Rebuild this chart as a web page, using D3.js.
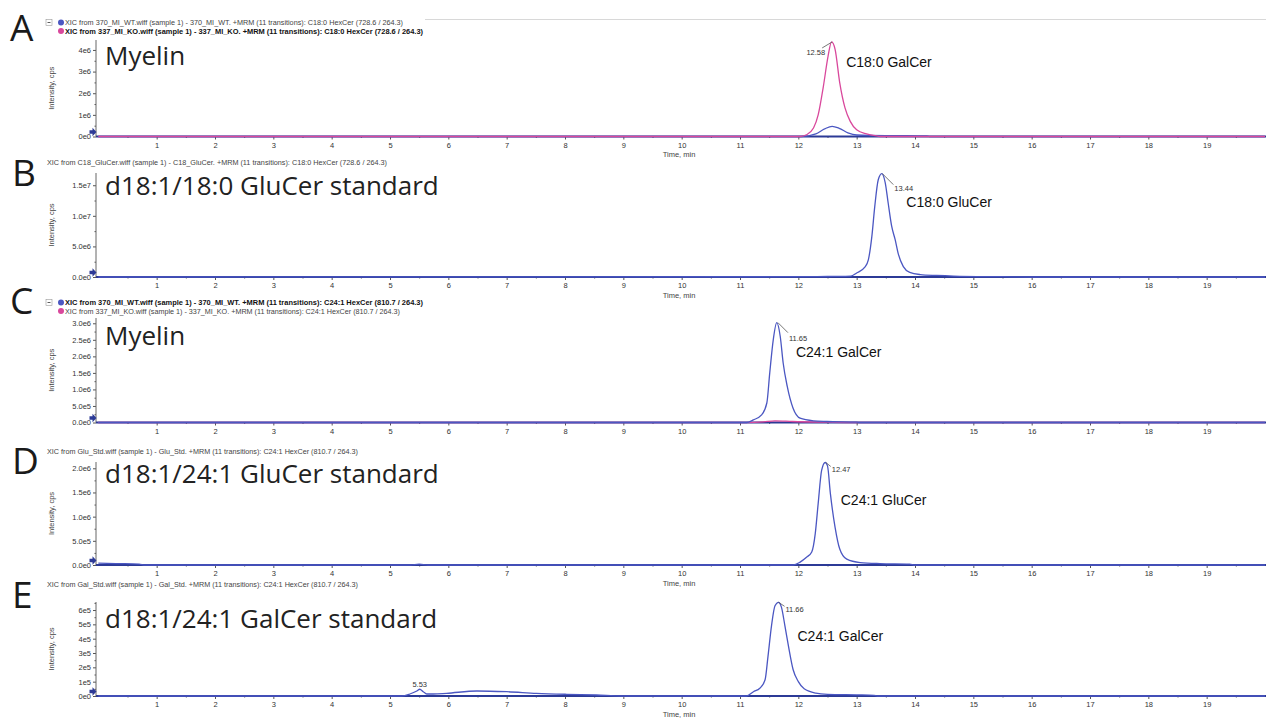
<!DOCTYPE html>
<html>
<head>
<meta charset="utf-8">
<script src="https://cdn.jsdelivr.net/npm/d3@7"></script>
<style>
body{margin:0;background:#fff;}
svg{display:block;font-family:"Liberation Sans",Arial,sans-serif;}
.axis text{font-size:7.5px;fill:#333;font-family:"Liberation Sans",Arial,sans-serif;}
.axis line{stroke:#555;}
</style>
</head>
<body>
<svg id="chart" width="1266" height="720"></svg>
<script>
// ---------- data ----------
const timeTicks = d3.range(1, 20);
const timeMinor = d3.range(0.5, 20, 1);

// A: myelin C18:0 HexCer, WT (blue) and KO (pink)
const aWtTime  = [0, 12.05, 12.3, 12.45, 12.58, 12.7, 12.85, 13.0, 13.5, 14.2, 14.25, 20];
const aWtValue = [0, 0, 0.12e6, 0.35e6, 0.47e6, 0.38e6, 0.17e6, 0.07e6, 0.04e6, 0.03e6, 0, 0];
const aKoTime  = [0, 12.03, 12.14, 12.26, 12.34, 12.43, 12.51, 12.57, 12.63, 12.71, 12.8, 12.89, 13.0, 13.17, 13.34, 13.4, 20];
const aKoValue = [0, 0, 0.08e6, 0.39e6, 1.0e6, 2.33e6, 3.72e6, 4.37e6, 4.03e6, 2.48e6, 1.32e6, 0.7e6, 0.31e6, 0.12e6, 0.03e6, 0, 0];
const aTickValues = [0, 1e6, 2e6, 3e6, 4e6];
const aTickLabels = ['0e0', '1e6', '2e6', '3e6', '4e6'];

// B: C18:0 GluCer standard
const bTime  = [0, 12.2, 12.6, 12.9, 13.0, 13.14, 13.2, 13.26, 13.31, 13.37, 13.43, 13.49, 13.54, 13.6, 13.66, 13.71, 13.8, 13.91, 14.09, 14.37, 14.66, 15.5, 16, 20];
const bValue = [0, 0.05e6, 0.1e6, 0.15e6, 0.65e6, 1.6e6, 2.8e6, 6.6e6, 11.5e6, 15.9e6, 16.9e6, 15.4e6, 12.1e6, 8.3e6, 6.1e6, 3.9e6, 1.7e6, 0.75e6, 0.4e6, 0.25e6, 0.15e6, 0.05e6, 0, 0];
const bTickValues = [0, 5e6, 1e7, 1.5e7];
const bTickLabels = ['0.0e0', '5.0e6', '1.0e7', '1.5e7'];

// C: myelin C24:1 HexCer, WT (blue) and KO (pink)
const cWtTime  = [0, 11.11, 11.23, 11.37, 11.46, 11.51, 11.57, 11.63, 11.69, 11.74, 11.81, 11.91, 12.03, 12.26, 12.49, 13.0, 13.05, 20];
const cWtValue = [0, 0, 0.08e6, 0.23e6, 0.59e6, 1.5e6, 2.5e6, 3.02e6, 2.6e6, 1.8e6, 1.09e6, 0.43e6, 0.13e6, 0.05e6, 0.03e6, 0.01e6, 0, 0];
const cKoTime  = [0, 11.1, 11.4, 11.6, 11.9, 12.5, 13.0, 20];
const cKoValue = [0, 0, 0.02e6, 0.05e6, 0.03e6, 0.01e6, 0, 0];
const cTickValues = [0, 5e5, 1e6, 1.5e6, 2e6, 2.5e6, 3e6];
const cTickLabels = ['0.0e0', '5.0e5', '1.0e6', '1.5e6', '2.0e6', '2.5e6', '3.0e6'];

// D: C24:1 GluCer standard
const dTime  = [0, 0.3, 0.7, 0.8, 5.35, 5.5, 5.65, 11.91, 12.03, 12.14, 12.23, 12.29, 12.34, 12.4, 12.46, 12.5, 12.55, 12.63, 12.71, 12.83, 13.06, 13.4, 13.91, 14.0, 20];
const dValue = [0.04e6, 0.03e6, 0.02e6, 0, 0, 0.02e6, 0, 0, 0.06e6, 0.16e6, 0.27e6, 0.65e6, 1.27e6, 1.96e6, 2.12e6, 2.05e6, 1.47e6, 0.78e6, 0.33e6, 0.12e6, 0.05e6, 0.03e6, 0.02e6, 0, 0];
const dTickValues = [0, 5e5, 1e6, 1.5e6, 2e6];
const dTickLabels = ['0.0e0', '5.0e5', '1.0e6', '1.5e6', '2.0e6'];

// E: C24:1 GalCer standard
const eTime  = [0, 5.2, 5.34, 5.46, 5.51, 5.57, 5.63, 5.74, 5.97, 6.49, 7.0, 7.51, 8.03, 8.54, 8.97, 11.11, 11.23, 11.34, 11.43, 11.48, 11.54, 11.6, 11.66, 11.71, 11.77, 11.83, 11.91, 12.0, 12.1, 12.3, 12.5, 13.0, 13.3, 13.35, 20];
const eValue = [0, 0, 0.14e5, 0.35e5, 0.47e5, 0.3e5, 0.14e5, 0.14e5, 0.19e5, 0.35e5, 0.3e5, 0.19e5, 0.12e5, 0.07e5, 0, 0, 0.3e5, 0.54e5, 1.13e5, 2.77e5, 4.9e5, 6.3e5, 6.54e5, 6.2e5, 4.9e5, 3.5e5, 1.85e5, 1.0e5, 0.5e5, 0.2e5, 0.12e5, 0.08e5, 0.05e5, 0, 0];
const eTickValues = [0, 1e5, 2e5, 3e5, 4e5, 5e5, 6e5];
const eTickLabels = ['0e0', '1e5', '2e5', '3e5', '4e5', '5e5', '6e5'];

const panelLetters = ['A', 'B', 'C', 'D', 'E'];
const panelTitles = ['Myelin', 'd18:1/18:0 GluCer standard', 'Myelin', 'd18:1/24:1 GluCer standard', 'd18:1/24:1 GalCer standard'];
const compoundNames = ['C18:0 GalCer', 'C18:0 GluCer', 'C24:1 GalCer', 'C24:1 GluCer', 'C24:1 GalCer'];
const peakTimes = [12.58, 13.44, 11.65, 12.47, 11.66];
const peakLabels = ['12.58', '13.44', '11.65', '12.47', '11.66'];

const headerA = ['XIC from 370_MI_WT.wiff (sample 1) - 370_MI_WT. +MRM (11 transitions): C18:0 HexCer (728.6 / 264.3)',
                 'XIC from 337_MI_KO.wiff (sample 1) - 337_MI_KO. +MRM (11 transitions): C18:0 HexCer (728.6 / 264.3)'];
const headerB = ['XIC from C18_GluCer.wiff (sample 1) - C18_GluCer. +MRM (11 transitions): C18:0 HexCer (728.6 / 264.3)'];
const headerC = ['XIC from 370_MI_WT.wiff (sample 1) - 370_MI_WT. +MRM (11 transitions): C24:1 HexCer (810.7 / 264.3)',
                 'XIC from 337_MI_KO.wiff (sample 1) - 337_MI_KO. +MRM (11 transitions): C24:1 HexCer (810.7 / 264.3)'];
const headerD = ['XIC from Glu_Std.wiff (sample 1) - Glu_Std. +MRM (11 transitions): C24:1 HexCer (810.7 / 264.3)'];
const headerE = ['XIC from Gal_Std.wiff (sample 1) - Gal_Std. +MRM (11 transitions): C24:1 HexCer (810.7 / 264.3)'];

// ---------- layout ----------
const BLUE = '#4b57c2', PINK = '#d9489c', NAVY = '#2c3a96';
const zip = (t, v) => t.map((d, i) => [d, v[i]]);

const panels = [
  {top: 40, base: 136.5, yMax: 4.46e6, ticks: aTickValues, labels: aTickLabels, minor: 0.5e6,
   series: [{d: zip(aWtTime, aWtValue), c: BLUE}, {d: zip(aKoTime, aKoValue), c: PINK}],
   header: headerA, headerY: 25, legend: [{c: BLUE, bold: false, len: 338}, {c: PINK, bold: true, len: 358}],
   letterY: 40, letterX: 10, titleY: 65, timeLabel: true,
   peakV: 4.37e6, lab: {dx: -7, dy: 13, anchor: 'end', lx: -10, ly: 6}, cmp: {dx: 14, dy: 25}},
  {top: 173, base: 277, yMax: 1.7e7, ticks: bTickValues, labels: bTickLabels, minor: 2.5e6,
   series: [{d: zip(bTime, bValue), c: BLUE}],
   header: headerB, headerY: 165, legend: null, hlen: [340],
   letterY: 185, letterX: 12, titleY: 195, timeLabel: true,
   peakV: 16.9e6, lab: {dx: 12, dy: 17, anchor: 'start', lx: 11, ly: 11}, cmp: {dx: 24, dy: 33}},
  {top: 318, base: 422.5, yMax: 3.16e6, ticks: cTickValues, labels: cTickLabels, minor: 2.5e5,
   series: [{d: zip(cKoTime, cKoValue), c: PINK}, {d: zip(cWtTime, cWtValue), c: BLUE}],
   header: headerC, headerY: 305, legend: [{c: BLUE, bold: true, len: 358}, {c: PINK, bold: false, len: 335}],
   letterY: 313, letterX: 10, titleY: 345, timeLabel: false,
   peakV: 3.02e6, lab: {dx: 11, dy: 18, anchor: 'start', lx: 10, ly: 10}, cmp: {dx: 18, dy: 34}},
  {top: 462, base: 565, yMax: 2.13e6, ticks: dTickValues, labels: dTickLabels, minor: 2.5e5,
   series: [{d: zip(dTime, dValue), c: BLUE}],
   header: headerD, headerY: 454, legend: null, hlen: [311],
   letterY: 473, letterX: 12, titleY: 483, timeLabel: true,
   peakV: 2.12e6, lab: {dx: 6, dy: 10, anchor: 'start', lx: 5, ly: 4}, cmp: {dx: 15, dy: 43}},
  {top: 602, base: 696, yMax: 6.56e5, ticks: eTickValues, labels: eTickLabels, minor: 0.5e5,
   series: [{d: zip(eTime, eValue), c: BLUE}],
   header: headerE, headerY: 587, legend: null, hlen: [311],
   letterY: 607, letterX: 12, titleY: 628, timeLabel: true,
   peakV: 6.54e5, lab: {dx: 7, dy: 10, anchor: 'start', lx: 6, ly: 4}, cmp: {dx: 19, dy: 39},
   extra: {t: 5.51, v: 0.47e5, text: '5.53'}}
];

const svg = d3.select('#chart');
const x = d3.scaleLinear().domain([-0.04, 20]).range([96, 1265]);

svg.append('line')
  .attr('x1', 425).attr('x2', 1266).attr('y1', 19.5).attr('y2', 19.5)
  .style('stroke', '#d8d8d8');

panels.forEach((p, i) => {
  const y = d3.scaleLinear().domain([0, p.yMax]).range([p.base, p.top]);
  const g = svg.append('g');

  // panel letter and title
  g.append('text').attr('x', p.letterX).attr('y', p.letterY + 1)
    .style('font-family', '"Open Sans", sans-serif').style('font-size', '37px').style('fill', '#1a1a1a')
    .text(panelLetters[i]);
  g.append('text').attr('x', 105).attr('y', p.titleY)
    .style('font-family', '"Open Sans", sans-serif').style('font-size', '26px').style('fill', '#222')
    .text(panelTitles[i]);

  // header / legend
  p.header.forEach((h, k) => {
    const hy = p.headerY + k * 8.5;
    if (p.legend) {
      if (k === 0) {
        g.append('rect').attr('x', 46).attr('y', hy - 5.5).attr('width', 6).attr('height', 6)
          .style('fill', '#fff').style('stroke', '#999').style('stroke-width', 0.6);
        g.append('line').attr('x1', 47.5).attr('x2', 50.5).attr('y1', hy - 2.5).attr('y2', hy - 2.5)
          .style('stroke', '#333').style('stroke-width', 0.8);
      }
      g.append('circle').attr('cx', 61).attr('cy', hy - 2.5).attr('r', 3)
        .style('fill', p.legend[k].c);
      g.append('text').attr('x', 65).attr('y', hy)
        .attr('textLength', p.legend[k].len).attr('lengthAdjust', 'spacingAndGlyphs')
        .style('font-size', '7.5px').style('font-weight', p.legend[k].bold ? 'bold' : 'normal')
        .style('fill', p.legend[k].bold ? '#111' : '#444')
        .text(h);
    } else {
      g.append('text').attr('x', 47).attr('y', hy)
        .attr('textLength', p.hlen[k]).attr('lengthAdjust', 'spacingAndGlyphs')
        .style('font-size', '7.5px').style('fill', '#444')
        .text(h);
    }
  });

  // y axis
  const yAxis = d3.axisLeft(y).tickValues(p.ticks).tickFormat((d, j) => p.labels[j]).tickSize(3).tickPadding(2);
  const ya = g.append('g').attr('class', 'axis').attr('transform', 'translate(96,0)').call(yAxis);
  ya.select('.domain').remove();
  const yMinor = d3.range(p.minor, p.yMax, p.minor).filter(v => !p.ticks.some(t => Math.abs(t - v) < 1));
  g.append('g').attr('class', 'axis').attr('transform', 'translate(96,0)')
    .call(d3.axisLeft(y).tickValues(yMinor).tickFormat('').tickSize(1.5))
    .select('.domain').remove();
  g.append('line').attr('x1', 96).attr('x2', 96).attr('y1', p.top).attr('y2', p.base)
    .style('stroke', '#666').style('stroke-width', 1);

  g.append('text').attr('transform', `translate(54,${(p.top + p.base) / 2}) rotate(-90)`)
    .attr('text-anchor', 'middle').style('font-size', '7.5px').style('fill', '#444')
    .text('Intensity, cps');

  // x axis
  const xa = g.append('g').attr('class', 'axis').attr('transform', `translate(0,${p.base})`)
    .call(d3.axisBottom(x).tickValues(timeTicks).tickFormat(d3.format('d')).tickSize(3).tickPadding(3));
  xa.select('.domain').remove();
  g.append('g').attr('class', 'axis').attr('transform', `translate(0,${p.base})`)
    .call(d3.axisBottom(x).tickValues(timeMinor).tickFormat('').tickSize(1.5))
    .select('.domain').remove();
  g.append('line').attr('x1', 96).attr('x2', 1266).attr('y1', p.base).attr('y2', p.base)
    .style('stroke', NAVY).style('stroke-width', 2);
  if (p.timeLabel) {
    g.append('text').attr('x', 679).attr('y', p.base + 20.5).attr('text-anchor', 'middle')
      .style('font-size', '7.5px').style('fill', '#444').text('Time, min');
  }

  // traces
  const line = d3.line().x(d => x(d[0])).y(d => y(d[1])).curve(d3.curveMonotoneX);
  p.series.forEach(s => {
    g.append('path').datum(s.d).attr('d', line)
      .style('fill', 'none').style('stroke', s.c).style('stroke-width', 1.3);
  });

  // arrow marker at the origin
  g.append('path')
    .attr('d', 'M0,-1.8 h3 v-2.5 l4,4.3 l-4,4.3 v-2.5 h-3 z')
    .attr('transform', `translate(89.5,${p.base - 4.5})`)
    .style('fill', NAVY);

  // peak annotations
  const px = x(peakTimes[i]), py = y(p.peakV);
  g.append('line').attr('x1', px).attr('y1', py).attr('x2', px + p.lab.lx).attr('y2', py + p.lab.ly)
    .style('stroke', '#555').style('stroke-width', 0.8);
  g.append('text').attr('x', px + p.lab.dx).attr('y', py + p.lab.dy).attr('text-anchor', p.lab.anchor)
    .style('font-size', '7.5px').style('fill', '#333').text(peakLabels[i]);
  g.append('text').attr('x', px + p.cmp.dx).attr('y', py + p.cmp.dy)
    .style('font-size', '14px').style('fill', '#111').text(compoundNames[i]);

  if (p.extra) {
    g.append('text').attr('x', x(p.extra.t)).attr('y', y(p.extra.v) - 2).attr('text-anchor', 'middle')
      .style('font-size', '7.5px').style('fill', '#333').text(p.extra.text);
  }
});
</script>
</body>
</html>
